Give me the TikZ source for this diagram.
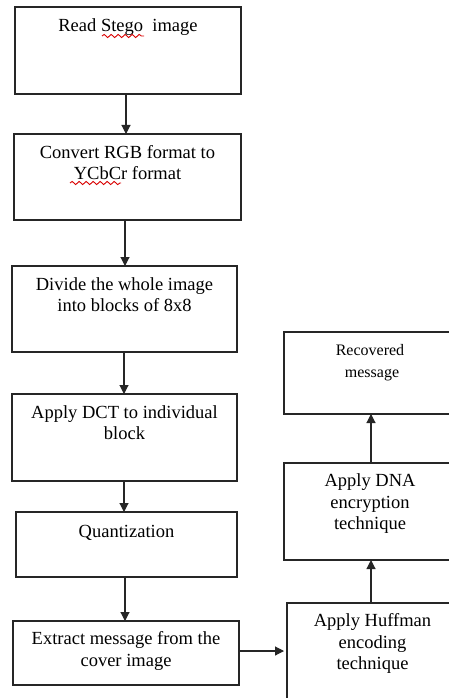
\documentclass[tikz,border=0pt]{standalone}
\usepackage{fontspec}
\setmainfont{Liberation Serif}
\usetikzlibrary{arrows.meta,positioning,decorations.pathmorphing}
\begin{document}
\begin{tikzpicture}[x=1pt,y=-1pt,
  box/.style={draw=black!85, line width=1.2pt, anchor=north west, inner sep=0pt, outer sep=0pt},
  txt/.style={align=center, inner sep=0pt, font=\fontsize{18.5}{21.5}\selectfont},
  smalltxt/.style={align=center, inner sep=0pt, font=\fontsize{16}{22}\selectfont},
  arr/.style={draw=black!85, line width=1.1pt, -{Triangle[length=9pt,width=9pt]}},
  squig/.style={draw=red!85!black, line width=0.9pt, decorate, decoration={snake, segment length=7pt, amplitude=1.6pt}}]
\useasboundingbox (0,0) rectangle (449,698);
\clip (0,0) rectangle (449,698);
\fill[white] (0,0) rectangle (449,698);
% left column
\node[box, minimum width=226pt, minimum height=87pt] (b1) at (15,7) {};
\node[txt, below=9.5pt of b1.north] (t1) {\strut Read Stego\ \ image};
\node[box, minimum width=227pt, minimum height=86pt] (b2) at (14,134) {};
\node[txt, below=9pt of b2.north] (t2) {\strut Convert RGB format to\\\strut YCbCr format};
\node[box, minimum width=225pt, minimum height=86pt] (b3) at (12,266) {};
\node[txt, below=9pt of b3.north] (t3) {\strut Divide the whole image\\\strut into blocks of 8x8};
\node[box, minimum width=225pt, minimum height=87pt] (b4) at (12,394) {};
\node[txt, below=9pt of b4.north] (t4) {\strut Apply DCT to individual\\\strut block};
\node[box, minimum width=221pt, minimum height=65pt] (b5) at (16,512) {};
\node[txt, below=10.5pt of b5.north] (t5) {\strut Quantization};
\node[box, minimum width=226pt, minimum height=64pt] (b6) at (13,621) {};
\node[txt, below=8.5pt of b6.north] (t6) {\strut Extract message from the\\\strut cover image};
% right column
\node[box, minimum width=171pt, minimum height=105pt] (b7) at (287,603) {};
\node[txt, below=8.5pt of b7.north] (t7) {\strut Apply Huffman\\\strut encoding\\\strut technique};
\node[box, minimum width=172pt, minimum height=97pt] (b8) at (284,463) {};
\node[txt, below=8.5pt of b8.north] (t8) {\strut Apply DNA\\\strut encryption\\\strut technique};
\node[box, minimum width=172pt, minimum height=82pt] (b9) at (284,332) {};
\node[smalltxt, below=8pt of b9.north] (t9) {\strut Recovered\\\strut\ message};
% arrow columns
\coordinate (c1) at (126,0);
\coordinate (c2) at (125,0);
\coordinate (c3) at (124,0);
\coordinate (c4) at (124,0);
\coordinate (c5) at (125,0);
\coordinate (cr) at (371,0);
\coordinate (ch) at (0,651);
\draw[arr] (b1.south -| c1) -- (b2.north -| c1);
\draw[arr] (b2.south -| c2) -- (b3.north -| c2);
\draw[arr] (b3.south -| c3) -- (b4.north -| c3);
\draw[arr] (b4.south -| c4) -- (b5.north -| c4);
\draw[arr] (b5.south -| c5) -- (b6.north -| c5);
\draw[arr, shorten >=3pt] (b6.east |- ch) -- (b7.west |- ch);
\draw[arr] (b7.north -| cr) -- (b8.south -| cr);
\draw[arr] (b8.north -| cr) -- (b9.south -| cr);
% spell-check underlines
\draw[squig] (102,36) -- (144,36);
\draw[squig] (70,183) -- (121,183);
\end{tikzpicture}
\end{document}
